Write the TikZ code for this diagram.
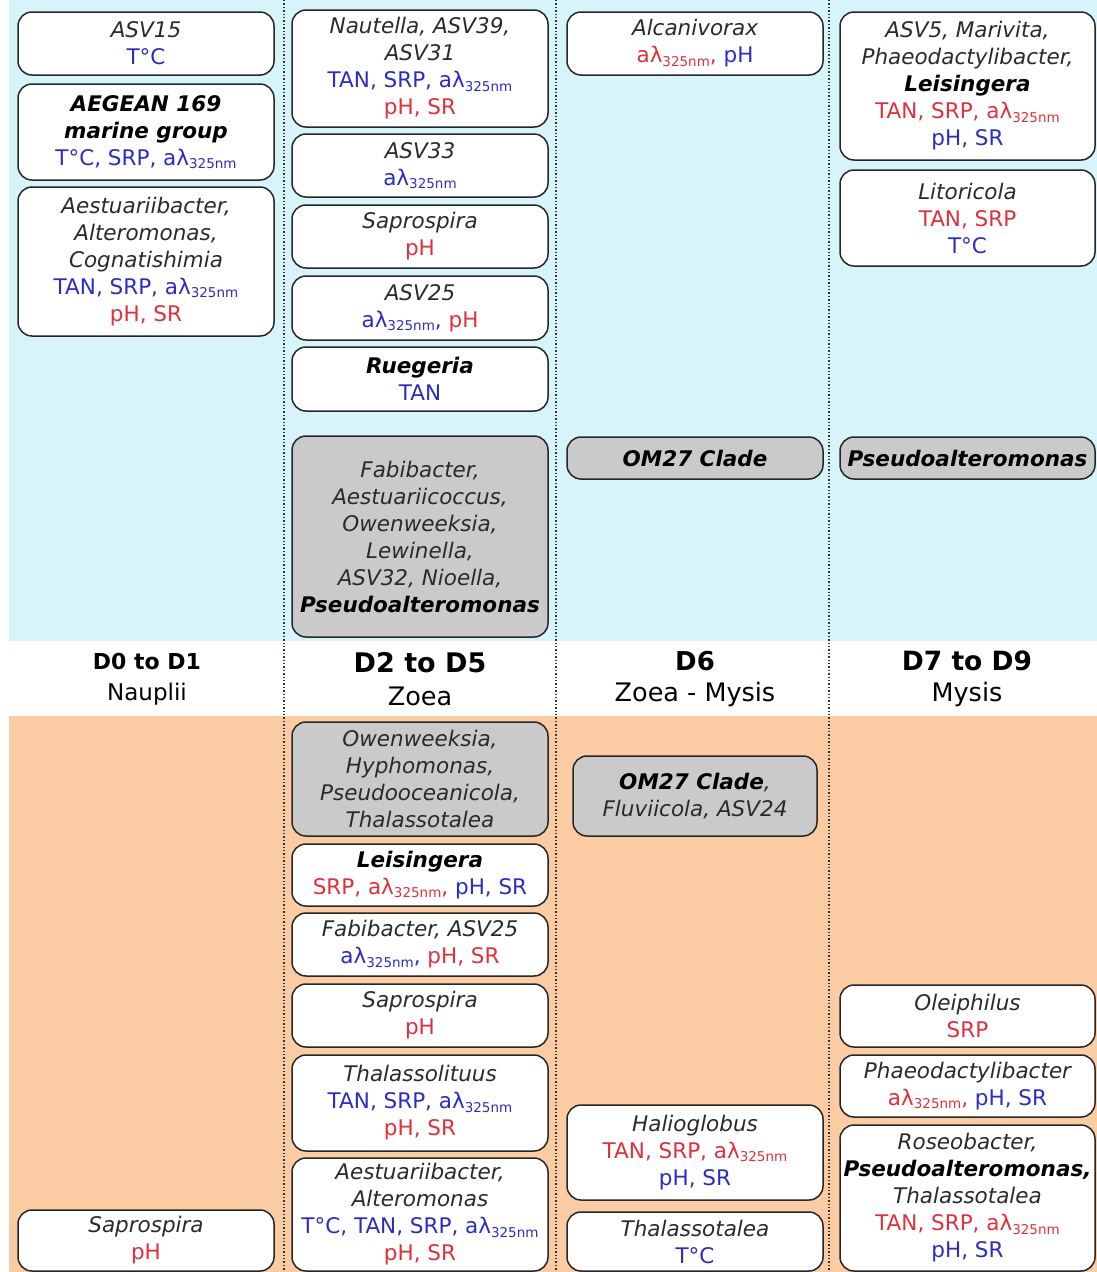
\documentclass[tikz,border=0pt]{standalone}
\usepackage{fontspec}
\setmainfont{DejaVu Sans}
\definecolor{bgblue}{HTML}{D8F4FB}
\definecolor{bgpeach}{HTML}{FBCBA3}
\definecolor{boxgray}{HTML}{CACACA}
\definecolor{tblue}{HTML}{2C2CC4}
\definecolor{tred}{HTML}{E0303C}
\definecolor{tname}{HTML}{2A2A2A}
\newcommand\BL[1]{\textcolor{tblue}{#1}}
\newcommand\RD[1]{\textcolor{tred}{#1}}
\newcommand\Nm[1]{\textcolor{tname}{\itshape #1}}
\newcommand\Bn[1]{\textcolor{black}{\bfseries\itshape #1}}
\newcommand\AL{aλ\raisebox{-0.3ex}{\fontsize{13.5}{13.5}\selectfont 325nm}}
\newcommand\bx[7]{\node[#2, minimum width={#5pt-#3pt}, minimum height={#6pt-#4pt}] (#1) at ({(#3+#5)/2},{(#4+#6)/2}) {#7};}
\tikzset{
  box/.style={draw=black!85, line width=1.5pt, rounded corners=14pt, fill=white,
    inner sep=0pt, align=center, font=\fontsize{21.5}{27}\selectfont},
  gbox/.style={box, fill=boxgray},
  sepline/.style={dotted, line width=1.4pt, black!80},
  hdr/.style={inner sep=0pt, align=center}
}
\begin{document}
\begin{tikzpicture}[x=1pt,y=-1pt]
\useasboundingbox (0,0) rectangle (1097,1272);
\fill[white] (0,0) rectangle (1097,1272);
\fill[bgblue] (9,0) rectangle (1097,641);
\fill[bgpeach] (9,716) rectangle (1097,1272);
% separators
\coordinate (s1t) at (284,0); \coordinate (s1b) at (284,1272);
\coordinate (s2t) at (556,0); \coordinate (s2b) at (556,1272);
\coordinate (s3t) at (829,0); \coordinate (s3b) at (829,1272);
\draw[sepline] (s1t) -- (s1b);
\draw[sepline] (s2t) -- (s2b);
\draw[sepline] (s3t) -- (s3b);
% header
\node[hdr] (h1a) at (147,661) {\fontsize{22}{25}\selectfont\bfseries D0 to D1};
\node[hdr] (h1b) at (147,694) {\fontsize{23}{26}\selectfont Nauplii};
\node[hdr] (h2a) at (420,663) {\fontsize{27}{30}\selectfont\bfseries D2 to D5};
\node[hdr] (h2b) at (420,696) {\fontsize{25.5}{29}\selectfont Zoea};
\node[hdr] (h3a) at (695,661) {\fontsize{26}{29}\selectfont\bfseries D6};
\node[hdr] (h3b) at (695,694) {\fontsize{25.5}{29}\selectfont Zoea - Mysis};
\node[hdr] (h4a) at (967,661) {\fontsize{26.5}{29}\selectfont\bfseries D7 to D9};
\node[hdr] (h4b) at (967,694) {\fontsize{25.5}{29}\selectfont Mysis};
% column 1
\bx{a1}{box}{18}{12}{274}{75}{\Nm{ASV15}\\\BL{T°C}}
\bx{a2}{box}{18}{84}{274}{180}{\Bn{AEGEAN 169}\\\Bn{marine group}\\\BL{T°C, SRP, \AL}}
\bx{a3}{box}{18}{187}{274}{336}{\Nm{Aestuariibacter,}\\\Nm{Alteromonas,}\\\Nm{Cognatishimia}\\\BL{TAN, SRP, \AL}\\\RD{pH, SR}}
\bx{a4}{box}{18}{1210}{274}{1271}{\Nm{Saprospira}\\\RD{pH}}
% column 2 top
\bx{b1}{box}{292}{10}{548}{127}{\Nm{Nautella, ASV39,}\\\Nm{ASV31}\\\BL{TAN, SRP, \AL}\\\RD{pH, SR}}
\bx{b2}{box}{292}{134}{548}{197}{\Nm{ASV33}\\\BL{\AL}}
\bx{b3}{box}{292}{205}{548}{268}{\Nm{Saprospira}\\\RD{pH}}
\bx{b4}{box}{292}{276}{548}{340}{\Nm{ASV25}\\\BL{\AL,} \RD{pH}}
\bx{b5}{box}{292}{347}{548}{411}{\Bn{Ruegeria}\\\BL{TAN}}
\bx{b6}{gbox}{292}{436}{548}{637}{\Nm{Fabibacter,}\\\Nm{Aestuariicoccus,}\\\Nm{Owenweeksia,}\\\Nm{Lewinella,}\\\Nm{ASV32, Nioella,}\\\Bn{Pseudoalteromonas}}
% column 2 bottom
\bx{c1}{gbox}{292}{722}{548}{836}{\Nm{Owenweeksia,}\\\Nm{Hyphomonas,}\\\Nm{Pseudooceanicola,}\\\Nm{Thalassotalea}}
\bx{c2}{box}{292}{844}{548}{906}{\Bn{Leisingera}\\\RD{SRP, \AL,} \BL{pH, SR}}
\bx{c3}{box}{292}{913}{548}{976}{\Nm{Fabibacter, ASV25}\\\BL{\AL,} \RD{pH, SR}}
\bx{c4}{box}{292}{984}{548}{1047}{\Nm{Saprospira}\\\RD{pH}}
\bx{c5}{box}{292}{1055}{548}{1151}{\Nm{Thalassolituus}\\\BL{TAN, SRP, \AL}\\\RD{pH, SR}}
\bx{c6}{box}{292}{1158}{548}{1271}{\Nm{Aestuariibacter,}\\\Nm{Alteromonas}\\\BL{T°C, TAN, SRP, \AL}\\\RD{pH, SR}}
% column 3 top
\bx{d1}{box}{567}{12}{823}{75}{\Nm{Alcanivorax}\\\RD{\AL,} \BL{pH}}
\bx{d2}{gbox}{567}{437}{823}{479}{\Bn{OM27 Clade}}
% column 3 bottom
\bx{e1}{gbox}{573}{756}{817}{836}{\Bn{OM27 Clade}\Nm{,}\\\Nm{Fluviicola, ASV24}}
\bx{e2}{box}{567}{1105}{823}{1200}{\Nm{Halioglobus}\\\RD{TAN, SRP, \AL}\\\BL{pH, SR}}
\bx{e3}{box}{567}{1212}{823}{1271}{\Nm{Thalassotalea}\\\BL{T°C}}
% column 4 top
\bx{f1}{box}{840}{12}{1095}{160}{\Nm{ASV5, Marivita,}\\\Nm{Phaeodactylibacter,}\\\Bn{Leisingera}\\\RD{TAN, SRP, \AL}\\\BL{pH, SR}}
\bx{f2}{box}{840}{170}{1095}{266}{\Nm{Litoricola}\\\RD{TAN, SRP}\\\BL{T°C}}
\bx{f3}{gbox}{840}{437}{1095}{479}{\Bn{Pseudoalteromonas}}
% column 4 bottom
\bx{g1}{box}{840}{985}{1095}{1047}{\Nm{Oleiphilus}\\\RD{SRP}}
\bx{g2}{box}{840}{1055}{1095}{1117}{\Nm{Phaeodactylibacter}\\\RD{\AL,} \BL{pH, SR}}
\bx{g3}{box}{840}{1125}{1095}{1271}{\Nm{Roseobacter,}\\\Bn{Pseudoalteromonas,}\\\Nm{Thalassotalea}\\\RD{TAN, SRP, \AL}\\\BL{pH, SR}}
\end{tikzpicture}
\end{document}
